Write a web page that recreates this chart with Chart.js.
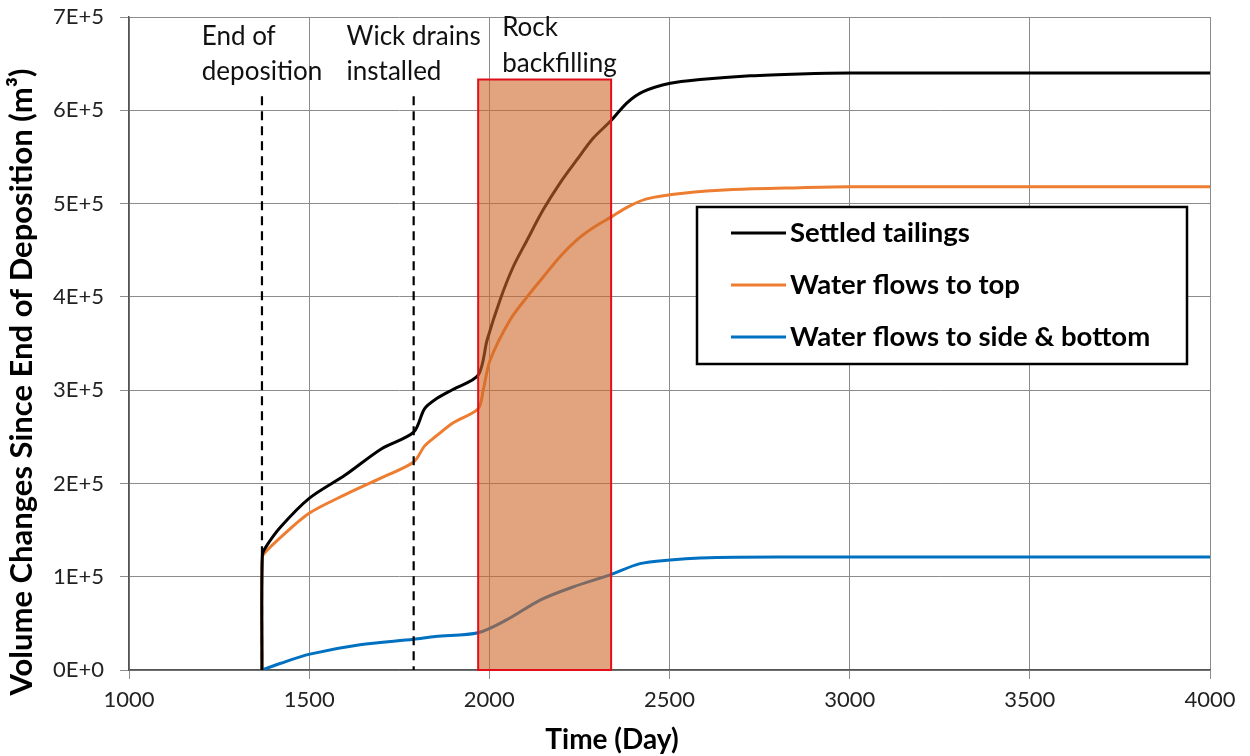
<!DOCTYPE html>
<html>
<head>
<meta charset="utf-8">
<script src="https://cdn.jsdelivr.net/npm/chart.js@4.4.0/dist/chart.umd.min.js"></script>
<style>
  html, body { margin: 0; padding: 0; background: #fff; }
</style>
</head>
<body>
<canvas id="myChart" width="1250" height="756"></canvas>
<script>
// values (days, m3)
const settledDays = [1369, 1370, 1380, 1420, 1500, 1600, 1700, 1790, 1820, 1850, 1900, 1969, 1994, 2030, 2066, 2105, 2149, 2196, 2243, 2288, 2338, 2382, 2427, 2502, 2585, 2724, 2862, 3000, 4000];
const settledVol = [0, 123000, 132000, 153000, 184000, 209000, 237000, 255000, 280000, 290000, 301000, 316000, 354000, 397000, 432000, 461000, 493000, 522000, 547000, 570000, 589000, 608000, 620000, 629000, 633000, 637000, 639000, 640000, 640000];

const topDays = [1369, 1370, 1380, 1420, 1500, 1600, 1700, 1790, 1820, 1850, 1900, 1969, 1983, 2002, 2057, 2105, 2149, 2196, 2243, 2288, 2340, 2382, 2437, 2538, 2676, 2862, 3000, 4000];
const topVol = [0, 121000, 127000, 142000, 168000, 188000, 206000, 223000, 240000, 250000, 265000, 280000, 300000, 332000, 375000, 400000, 421000, 443000, 461000, 474000, 486000, 496000, 505000, 511000, 515000, 517000, 518000, 518000];

const sideDays = [1369, 1419, 1502, 1641, 1790, 1850, 1969, 2049, 2141, 2232, 2335, 2418, 2502, 2585, 2800, 4000];
const sideVol = [0, 7000, 17000, 27000, 33000, 36000, 40000, 54000, 75000, 89000, 102000, 114000, 118000, 120000, 121000, 121000];

const seriesNames = ['Settled tailings', 'Water flows to top', 'Water flows to side & bottom'];
const seriesColors = ['#000000', '#ED7D31', '#0070C0'];

// events
const eventDays = [1369, 1790];
const eventTop = 615000;
const eventText = [['End of', 'deposition'], ['Wick drains', 'installed']];
const backfillDays = [1969, 2338];
const backfillTop = 633000;
const backfillText = ['Rock', 'backfilling'];

const xTicks = [1000, 4000, 500];
const yTicks = [0, 700000, 100000];

const toPoints = (xs, ys) => xs.map((x, i) => ({ x: x, y: ys[i] }));

const overlay = {
      id: 'overlay',
      afterDatasetsDraw(chart) {
            const ctx = chart.ctx;
            const xs = chart.scales.x;
            const ys = chart.scales.y;
            ctx.save();

            // rock backfilling box
            const bx0 = xs.getPixelForValue(backfillDays[0]);
            const bx1 = xs.getPixelForValue(backfillDays[1]);
            const by0 = ys.getPixelForValue(backfillTop);
            const by1 = ys.getPixelForValue(0);
            ctx.fillStyle = 'rgba(207,103,40,0.6)';
            ctx.fillRect(bx0, by0, bx1 - bx0, by1 - by0);
            ctx.strokeStyle = '#E0101A';
            ctx.lineWidth = 2;
            ctx.strokeRect(bx0, by0, bx1 - bx0, by1 - by0);

            // dashed event lines
            ctx.strokeStyle = '#000';
            ctx.lineWidth = 2.2;
            ctx.setLineDash([9, 6]);
            eventDays.forEach(d => {
                  const px = xs.getPixelForValue(d);
                  ctx.beginPath();
                  ctx.moveTo(px, ys.getPixelForValue(eventTop));
                  ctx.lineTo(px, ys.getPixelForValue(0));
                  ctx.stroke();
            });
            ctx.setLineDash([]);

            // event labels
            ctx.font = '26px Lato';
            ctx.fillStyle = '#111';
            ctx.textBaseline = 'middle';
            ctx.textAlign = 'left';
            eventDays.forEach((d, i) => {
                  const px = xs.getPixelForValue(d);
                  const w = Math.max(...eventText[i].map(t => ctx.measureText(t).width));
                  eventText[i].forEach((t, j) => ctx.fillText(t, px - w / 2, 37 + j * 35));
            });
            backfillText.forEach((t, j) => ctx.fillText(t, bx0 + 24, 28 + j * 36));

            // legend box
            ctx.fillStyle = '#fff';
            ctx.fillRect(697, 207, 490, 157);
            ctx.strokeStyle = '#000';
            ctx.lineWidth = 2.5;
            ctx.strokeRect(697, 207, 490, 157);
            ctx.font = 'bold 27.5px Lato';
            chart.data.datasets.forEach((ds, i) => {
                  const yy = 233 + i * 52;
                  ctx.strokeStyle = ds.borderColor;
                  ctx.lineWidth = 3;
                  ctx.beginPath();
                  ctx.moveTo(731, yy);
                  ctx.lineTo(786, yy);
                  ctx.stroke();
                  ctx.fillStyle = '#000';
                  ctx.fillText(ds.label, 790, yy);
            });

            // axis titles
            ctx.textAlign = 'center';
            ctx.font = 'bold 28px Lato';
            ctx.fillText('Time (Day)', 612, 740);
            ctx.font = 'bold 31px Lato';
            ctx.translate(22, 382);
            ctx.rotate(-Math.PI / 2);
            ctx.fillText('Volume Changes Since End of Deposition (m³)', 0, 0);
            ctx.restore();
      }
};

new Chart(document.getElementById('myChart'), {
      type: 'line',
      data: {
            datasets: [
                  { label: seriesNames[0], data: toPoints(settledDays, settledVol), borderColor: seriesColors[0] },
                  { label: seriesNames[1], data: toPoints(topDays, topVol), borderColor: seriesColors[1] },
                  { label: seriesNames[2], data: toPoints(sideDays, sideVol), borderColor: seriesColors[2] }
            ]
      },
      options: {
            responsive: false,
            animation: false,
            layout: { padding: { top: 17, right: 40, left: 0, bottom: 0 } },
            elements: {
                  point: { radius: 0 },
                  line: { borderWidth: 3, tension: 0.3, fill: false }
            },
            plugins: {
                  legend: { display: false },
                  tooltip: { enabled: false }
            },
            scales: {
                  x: {
                        type: 'linear',
                        min: xTicks[0],
                        max: xTicks[1],
                        afterFit: s => { s.height = 86; s.paddingLeft = 0; s.paddingRight = 0; },
                        grid: { color: '#8c8c8c', lineWidth: 1, tickLength: 9 },
                        border: { color: '#555', width: 1.5 },
                        ticks: { stepSize: xTicks[2], padding: 8, color: '#222', font: { family: 'Lato', size: 22 }, callback: v => String(v) }
                  },
                  y: {
                        min: yTicks[0],
                        max: yTicks[1],
                        afterFit: s => { s.width = 129; s.paddingTop = 0; s.paddingBottom = 0; },
                        grid: { color: '#8c8c8c', lineWidth: 1, tickLength: 9 },
                        border: { color: '#555', width: 1.5 },
                        ticks: {
                              stepSize: yTicks[2],
                              padding: 16,
                              color: '#222',
                              font: { family: 'Lato', size: 22 },
                              callback: v => v === 0 ? '0E+0' : (v / 100000) + 'E+5'
                        }
                  }
            }
      },
      plugins: [overlay]
});
</script>
</body>
</html>
